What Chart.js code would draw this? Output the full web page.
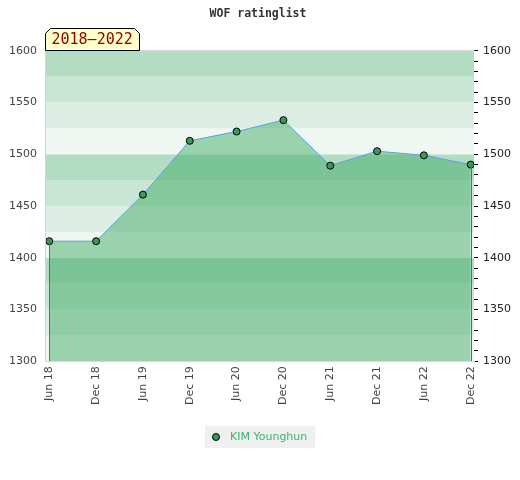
<!DOCTYPE html>
<html>
<head>
<meta charset="utf-8">
<script src="https://cdn.jsdelivr.net/npm/chart.js@4/dist/chart.umd.min.js"></script>
<style>
  html,body{margin:0;padding:0;background:#fff}
  #wrap{width:520px;height:480px}
</style>
</head>
<body>
<div id="wrap"><canvas id="c"></canvas></div>
<script>
/* ---- data ---- */
const periods = ['Jun 18','Dec 18','Jun 19','Dec 19','Jun 20','Dec 20','Jun 21','Dec 21','Jun 22','Dec 22'];
const ratings = [1416, 1416, 1461, 1513, 1522, 1533, 1489, 1503, 1499, 1490];
const playerName = 'KIM Younghun';
const periodLabel = '2018\u20132022';
const yMin = 1300, yMax = 1600;

/* couleurs des bandes (clair -> foncé) */
const bandCols = ['#eef7f1', '#dcede3', '#c8e6d3', '#b3dcc3'];

const bgPlugin = {
  id: 'bands',
  beforeDatasetsDraw(chart) {
    const {ctx, chartArea: a, scales: {y}} = chart;
    ctx.save();
    for (let v = yMin; v < yMax; v += 25) {
      const t = y.getPixelForValue(v + 25), b = y.getPixelForValue(v);
      ctx.fillStyle = bandCols[((v - yMin) / 25) % 4];
      ctx.fillRect(a.left, t, a.right - a.left, b - t);
    }
    ctx.restore();
  },
  afterDatasetsDraw(chart) {
    const {ctx, chartArea: a} = chart;
    const pts = chart.getDatasetMeta(0).data;
    ctx.save();
    ctx.strokeStyle = '#2e8b57';
    ctx.lineWidth = 1;
    [pts[0], pts[pts.length - 1]].forEach(p => {
      const x = Math.round(p.x) + 0.5;
      ctx.beginPath(); ctx.moveTo(x, p.y); ctx.lineTo(x, a.bottom); ctx.stroke();
    });
    ctx.restore();
  },
  afterDraw(chart) {
    const {ctx, chartArea: a} = chart;
    ctx.save();
    // cadre haut
    ctx.strokeStyle = '#d4d4d4';
    ctx.lineWidth = 1;
    ctx.beginPath();
    ctx.moveTo(a.left - 0.5, a.top - 0.5); ctx.lineTo(a.right + 0.5, a.top - 0.5);
    ctx.stroke();
    // étiquette période
    const x0 = Math.round(a.left) - 0.5, x1 = x0 + 94, y0 = Math.round(a.top) - 22.5, y1 = Math.round(a.top) - 0.5, c = 5;
    ctx.beginPath();
    ctx.moveTo(x0, y1); ctx.lineTo(x0, y0 + c); ctx.lineTo(x0 + c, y0);
    ctx.lineTo(x1 - c, y0); ctx.lineTo(x1, y0 + c); ctx.lineTo(x1, y1); ctx.closePath();
    ctx.fillStyle = '#ffffcc'; ctx.fill();
    ctx.strokeStyle = '#000'; ctx.stroke();
    ctx.fillStyle = '#8b0000';
    ctx.font = '15px "DejaVu Sans Mono"';
    ctx.textBaseline = 'middle';
    ctx.fillText(periodLabel, x0 + 6, (y0 + y1) / 2 + 1);

    // légende
    ctx.font = '11px "DejaVu Sans"';
    const tw = ctx.measureText(playerName).width;
    const bw = tw + 33, bx = Math.round(chart.width / 2 - bw / 2), cy = Math.round(a.bottom) + 76;
    ctx.fillStyle = '#f0f0f0';
    ctx.fillRect(bx, cy - 11, bw, 22);
    ctx.beginPath();
    ctx.arc(bx + 11, cy, 3.5, 0, Math.PI * 2);
    ctx.fillStyle = '#3a9a5a'; ctx.fill();
    ctx.strokeStyle = '#000'; ctx.lineWidth = 1; ctx.stroke();
    ctx.fillStyle = '#3cb371';
    ctx.textBaseline = 'middle';
    ctx.fillText(playerName, bx + 25, cy + 0.5);
    ctx.restore();
  }
};

new Chart(document.getElementById('c'), {
  type: 'line',
  data: {
    labels: periods,
    datasets: [{
      label: playerName,
      data: ratings.map((r, i) => ({x: i, y: r})),
      borderColor: '#5aa0e6',
      borderWidth: 1,
      backgroundColor: 'rgba(66,172,102,0.49)',
      fill: 'start',
      tension: 0,
      pointRadius: 3.5,
      pointBackgroundColor: '#3a9a5a',
      pointBorderColor: '#000',
      pointBorderWidth: 1
    }]
  },
  plugins: [bgPlugin],
  options: {
    responsive: true,
    maintainAspectRatio: false,
    animation: false,
    layout: {padding: {left: 0, right: 4, bottom: 70}},
    plugins: {
      title: {
        display: true, text: 'WOF ratinglist', color: '#333',
        font: {family: '"DejaVu Sans Mono"', size: 11.5, weight: 'bold'},
        padding: {top: 7, bottom: 30}
      },
      legend: {display: false},
      tooltip: {enabled: false}
    },
    scales: {
      x: {
        type: 'linear', min: -0.07, max: 9.07,
        afterBuildTicks: s => { s.ticks = periods.map((p, i) => ({value: i})); },
        ticks: {
          callback: v => periods[v], maxRotation: 90, minRotation: 90,
          color: '#444', font: {family: '"DejaVu Sans"', size: 11}, padding: 5
        },
        grid: {display: false, drawTicks: false},
        border: {display: true, color: '#d4d4d4'}
      },
      y: {
        position: 'left', min: yMin, max: yMax,
        ticks: {stepSize: 50, callback: v => String(v), color: '#444',
                font: {family: '"DejaVu Sans"', size: 11}, padding: 9},
        grid: {display: false, drawTicks: false},
        border: {display: true, color: '#d4d4d4'}
      },
      y2: {
        position: 'right', min: yMin, max: yMax,
        ticks: {
          stepSize: 10, autoSkip: false,
          callback: v => v % 50 === 0 ? String(v) : '',
          color: '#222', font: {family: '"DejaVu Sans"', size: 11}, padding: 5
        },
        grid: {drawOnChartArea: false, drawTicks: true, tickLength: 4, color: '#000'},
        border: {display: false}
      }
    }
  }
});
</script>
</body>
</html>
